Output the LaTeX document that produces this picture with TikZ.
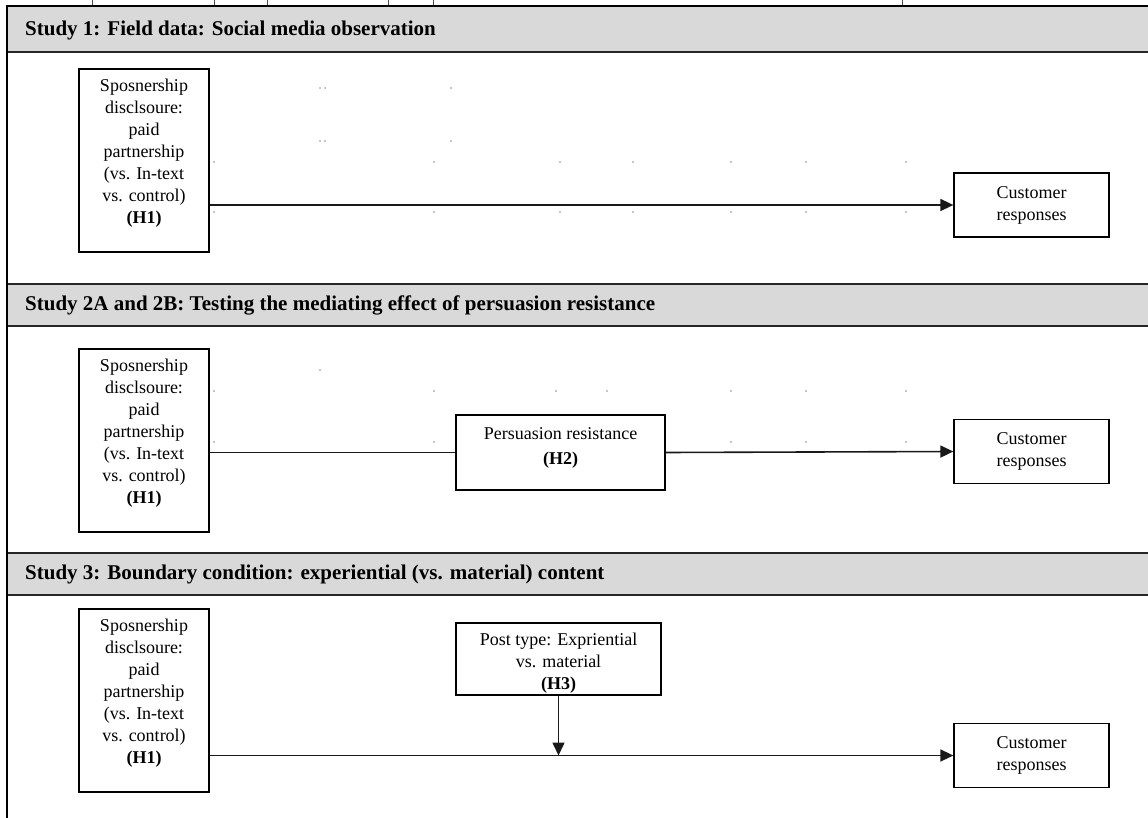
\documentclass[tikz,border=0pt]{standalone}
\usepackage{fontspec}
\setmainfont{Liberation Serif}
\usetikzlibrary{arrows.meta}
\definecolor{bandgray}{HTML}{D9D9D9}
\tikzset{
  frame/.style={draw=black, line width=1.3pt, fill=white, inner sep=0pt},
  leftbox/.style={frame, minimum width=130pt, minimum height=183pt},
  custbox/.style={frame, minimum width=155pt, minimum height=64pt,
    font=\fontsize{18}{22}\selectfont, align=center},
  body/.style={font=\fontsize{18}{22}\selectfont, align=center, inner sep=0pt, anchor=north},
  head/.style={font=\fontsize{21}{25}\selectfont\bfseries, anchor=west, inner sep=0pt},
  rule/.style={draw=black!85, line width=1.6pt},
  link/.style={draw=black!90, line width=1.6pt},
  arr/.style={link, -{Triangle[length=13pt,width=12pt]}},
  speck/.style={fill=black!45, draw=none},
  tick/.style={draw=black!70, line width=0.8pt},
}
\begin{document}
\begin{tikzpicture}[x=1pt,y=-1pt]
\useasboundingbox (0,0) rectangle (1148,818);

% header bands
\fill[bandgray] (7,7) rectangle (1148,52);
\fill[bandgray] (7,284) rectangle (1148,326);
\fill[bandgray] (7,553) rectangle (1148,595);
\draw[line width=2.5pt] (7,6) -- (1148,6);
\draw[rule] (7,52) -- (1148,52);
\draw[rule] (7,284) -- (1148,284);
\draw[rule] (7,326) -- (1148,326);
\draw[rule] (7,553) -- (1148,553);
\draw[rule] (7,595) -- (1148,595);
\draw[line width=1.5pt] (7,5) -- (7,818);

% small ticks above the top rule
\foreach \tx in {92,214,267,388,433,902} \draw[tick] (\tx,0) -- (\tx,5);

% faint specks
\foreach \px/\py in {320/88,325/88,451/88,320/141,325/141,451/141,
  214/162,434/162,560/162,633/162,731/162,806/162,906/162,
  214/212,434/212,560/212,633/212,731/212,806/212,906/212,
  320/370,214/391,434/391,556/391,607/391,731/391,806/391,906/391,
  214/442,434/442,731/442,806/442,906/442}
  \fill[speck] (\px,\py) circle (0.8pt);

% headings
\node[head] (h1) at (25,30) {Study 1: Field data: Social media observation};
\node[head] (h2) at (25,305) {Study 2A and 2B: Testing the mediating effect of persuasion resistance};
\node[head] (h3) at (25,574) {Study 3: Boundary condition: experiential (vs. material) content};

% Study 1
\node[leftbox] (s1l) at (144,160.5) {};
\node[body] (s1lt) at ([yshift=-10.5pt]s1l.north) {Sposnership\\disclsoure:\\paid\\partnership\\(vs. In-text\\vs. control)\\\textbf{(H1)}};
\node[custbox] (s1r) at (1031.5,205) {Customer\\responses};
\draw[arr] (s1l.east |- s1r.west) -- (s1r.west);

% Study 2
\node[leftbox] (s2l) at (144,440.5) {};
\node[body] (s2lt) at ([yshift=-10.5pt]s2l.north) {Sposnership\\disclsoure:\\paid\\partnership\\(vs. In-text\\vs. control)\\\textbf{(H1)}};
\node[frame, minimum width=209pt, minimum height=75pt] (s2m) at (560.5,452.5) {};
\node[body, font=\fontsize{18}{25}\selectfont] (s2mt) at ([yshift=-13.5pt]s2m.north) {Persuasion resistance\\\textbf{(H2)}};
\node[custbox] (s2r) at (1031.5,451.5) {Customer\\responses};
\draw[link] (s2l.east |- s2m.west) -- (s2m.west);
\draw[arr] (s2m.east) -- (s2r.west);

% Study 3
\node[leftbox] (s3l) at (144,700.5) {};
\node[body] (s3lt) at ([yshift=-10.5pt]s3l.north) {Sposnership\\disclsoure:\\paid\\partnership\\(vs. In-text\\vs. control)\\\textbf{(H1)}};
\node[frame, minimum width=205pt, minimum height=72pt] (s3m) at (558.5,659) {};
\node[body] (s3mt) at ([yshift=-10pt]s3m.north) {Post type: Expriential\\vs. material\\\textbf{(H3)}};
\node[custbox] (s3r) at (1031.5,755.5) {Customer\\responses};
\draw[arr] (s3l.east |- s3r.west) -- (s3r.west);
\coordinate (s3j) at (s3m.south |- s3r.west);
\draw[arr] (s3m.south) -- (s3j);
\end{tikzpicture}
\end{document}
